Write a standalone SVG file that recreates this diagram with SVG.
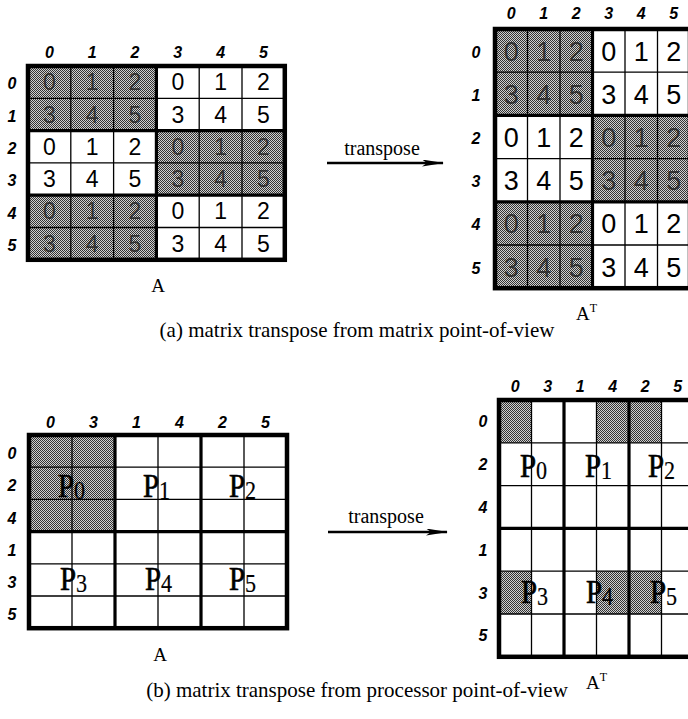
<svg xmlns="http://www.w3.org/2000/svg" width="688" height="719" viewBox="0 0 688 719">
<style>
.hd{font-family:"Liberation Sans",Arial,sans-serif;font-style:italic;font-weight:bold;font-size:16px;text-anchor:middle;fill:#000}
.d{font-family:"Liberation Sans",Arial,sans-serif;font-size:23px;text-anchor:middle;fill:#000}
.d2{font-size:27px}
.sd{fill:#1e1e1e;fill-opacity:0.8}
.cap{font-family:"Liberation Serif","Times New Roman",serif;font-size:21px;text-anchor:middle;fill:#000}
.lb{font-family:"Liberation Serif","Times New Roman",serif;font-size:19px;fill:#000}
.sup{font-size:12px}
.p{font-family:"Liberation Serif","Times New Roman",serif;font-size:34px;fill:#000;stroke:#000;stroke-width:0.7}
.sb{font-size:26px;stroke-width:0.2}
.thin{stroke:#000;stroke-width:1.3;fill:none}
.thick{stroke:#000;stroke-width:3.2;fill:none}
.outer{stroke:#000;stroke-width:4.5;fill:none}
.arr{stroke:#000;stroke-width:2.6;fill:none}
</style>
<defs>
<pattern id="ht" width="2" height="2" patternUnits="userSpaceOnUse">
<rect width="2" height="2" fill="#d0d0d0"/>
<rect width="1" height="1" fill="#333"/>
<rect x="1" y="1" width="1" height="1" fill="#333"/>
</pattern>
<marker id="ah" viewBox="0 0 22 7" refX="21" refY="3.5" markerWidth="22" markerHeight="7" markerUnits="userSpaceOnUse" orient="auto">
<path d="M0,0 L22,3.5 L0,7 L5,3.5 Z" fill="#000"/>
</marker>
</defs>

<!-- (a) A -->
<g id="matrixA1">
<rect x="28" y="66" width="128.4" height="64.6" fill="url(#ht)"/>
<rect x="156.4" y="130.6" width="128.4" height="64.6" fill="url(#ht)"/>
<rect x="28" y="195.2" width="128.4" height="64.6" fill="url(#ht)"/>
<path class="thin" d="M70.8,66V259.8M113.6,66V259.8M199.2,66V259.8M242,66V259.8M28,98.3H284.8M28,162.9H284.8M28,227.5H284.8"/>
<path class="thick" d="M156.4,66V259.8M28,130.6H284.8M28,195.2H284.8"/>
<rect class="outer" x="28" y="66" width="256.8" height="193.8"/>
<g class="hd">
<text x="49.4" y="58">0</text><text x="92.2" y="58">1</text><text x="135" y="58">2</text><text x="177.8" y="58">3</text><text x="220.6" y="58">4</text><text x="263.4" y="58">5</text>
<text x="12" y="89">0</text><text x="12" y="121.5">1</text><text x="12" y="154">2</text><text x="12" y="186">3</text><text x="12" y="218.5">4</text><text x="12" y="250.7">5</text>
</g>
<g class="d">
<g class="sd">
<text x="49.4" y="90.2">0</text><text x="92.2" y="90.2">1</text><text x="135" y="90.2">2</text>
<text x="49.4" y="122.5">3</text><text x="92.2" y="122.5">4</text><text x="135" y="122.5">5</text>
<text x="177.8" y="154.8">0</text><text x="220.6" y="154.8">1</text><text x="263.4" y="154.8">2</text>
<text x="177.8" y="187.1">3</text><text x="220.6" y="187.1">4</text><text x="263.4" y="187.1">5</text>
<text x="49.4" y="219.4">0</text><text x="92.2" y="219.4">1</text><text x="135" y="219.4">2</text>
<text x="49.4" y="251.7">3</text><text x="92.2" y="251.7">4</text><text x="135" y="251.7">5</text>
</g>
<text x="177.8" y="90.2">0</text><text x="220.6" y="90.2">1</text><text x="263.4" y="90.2">2</text>
<text x="177.8" y="122.5">3</text><text x="220.6" y="122.5">4</text><text x="263.4" y="122.5">5</text>
<text x="49.4" y="154.8">0</text><text x="92.2" y="154.8">1</text><text x="135" y="154.8">2</text>
<text x="49.4" y="187.1">3</text><text x="92.2" y="187.1">4</text><text x="135" y="187.1">5</text>
<text x="177.8" y="219.4">0</text><text x="220.6" y="219.4">1</text><text x="263.4" y="219.4">2</text>
<text x="177.8" y="251.7">3</text><text x="220.6" y="251.7">4</text><text x="263.4" y="251.7">5</text>
</g>
<text class="lb" x="158" y="292" text-anchor="middle">A</text>
</g>

<!-- (a) A^T -->
<g id="matrixAT1">
<rect x="495" y="29" width="97.5" height="86.4" fill="url(#ht)"/>
<rect x="592.5" y="115.4" width="97.5" height="86.4" fill="url(#ht)"/>
<rect x="495" y="201.8" width="97.5" height="86.4" fill="url(#ht)"/>
<path class="thin" d="M527.5,29V288.2M560,29V288.2M625,29V288.2M657.5,29V288.2M495,72.2H690M495,158.6H690M495,245H690"/>
<path class="thick" d="M592.5,29V288.2M495,115.4H690M495,201.8H690"/>
<rect class="outer" x="495" y="29" width="195" height="259.2"/>
<g class="hd">
<text x="511.3" y="19">0</text><text x="543.8" y="19">1</text><text x="576.3" y="19">2</text><text x="608.8" y="19">3</text><text x="641.3" y="19">4</text><text x="673.8" y="19">5</text>
<text x="476" y="57.6">0</text><text x="476" y="100.8">1</text><text x="476" y="144">2</text><text x="476" y="187.2">3</text><text x="476" y="230.4">4</text><text x="476" y="273.6">5</text>
</g>
<g class="d d2">
<g class="sd">
<text x="511.3" y="60.6">0</text><text x="543.8" y="60.6">1</text><text x="576.3" y="60.6">2</text>
<text x="511.3" y="103.8">3</text><text x="543.8" y="103.8">4</text><text x="576.3" y="103.8">5</text>
<text x="608.8" y="147">0</text><text x="641.3" y="147">1</text><text x="673.8" y="147">2</text>
<text x="608.8" y="190.2">3</text><text x="641.3" y="190.2">4</text><text x="673.8" y="190.2">5</text>
<text x="511.3" y="233.4">0</text><text x="543.8" y="233.4">1</text><text x="576.3" y="233.4">2</text>
<text x="511.3" y="276.6">3</text><text x="543.8" y="276.6">4</text><text x="576.3" y="276.6">5</text>
</g>
<text x="608.8" y="60.6">0</text><text x="641.3" y="60.6">1</text><text x="673.8" y="60.6">2</text>
<text x="608.8" y="103.8">3</text><text x="641.3" y="103.8">4</text><text x="673.8" y="103.8">5</text>
<text x="511.3" y="147">0</text><text x="543.8" y="147">1</text><text x="576.3" y="147">2</text>
<text x="511.3" y="190.2">3</text><text x="543.8" y="190.2">4</text><text x="576.3" y="190.2">5</text>
<text x="608.8" y="233.4">0</text><text x="641.3" y="233.4">1</text><text x="673.8" y="233.4">2</text>
<text x="608.8" y="276.6">3</text><text x="641.3" y="276.6">4</text><text x="673.8" y="276.6">5</text>
</g>
<text class="lb" x="576" y="320">A<tspan class="sup" dy="-8">T</tspan></text>
</g>

<text class="cap" x="357" y="337">(a) matrix transpose from matrix point-of-view</text>

<!-- (b) A -->
<g id="matrixA2">
<rect x="29" y="435" width="86" height="96.6" fill="url(#ht)"/>
<path class="thin" d="M72,435V628.2M158,435V628.2M244,435V628.2M29,467.2H287M29,499.4H287M29,563.8H287M29,596H287"/>
<path class="thick" d="M115,435V628.2M201,435V628.2M29,531.6H287"/>
<rect class="outer" x="29" y="435" width="258" height="193.2"/>
<g class="hd">
<text x="50.5" y="428">0</text><text x="93.5" y="428">3</text><text x="136.5" y="428">1</text><text x="179.5" y="428">4</text><text x="222.5" y="428">2</text><text x="265.5" y="428">5</text>
<text x="12" y="459">0</text><text x="12" y="491">2</text><text x="12" y="523.5">4</text><text x="12" y="555.7">1</text><text x="12" y="588">3</text><text x="12" y="620">5</text>
</g>
<text class="p" transform="translate(58,497) scale(0.85,1)">P<tspan class="sb" dy="2">0</tspan></text>
<text class="p" transform="translate(143,497) scale(0.85,1)">P<tspan class="sb" dy="2">1</tspan></text>
<text class="p" transform="translate(229,497) scale(0.85,1)">P<tspan class="sb" dy="2">2</tspan></text>
<text class="p" transform="translate(60,590) scale(0.85,1)">P<tspan class="sb" dy="2">3</tspan></text>
<text class="p" transform="translate(145,590) scale(0.85,1)">P<tspan class="sb" dy="2">4</tspan></text>
<text class="p" transform="translate(229,590) scale(0.85,1)">P<tspan class="sb" dy="2">5</tspan></text>
<text class="lb" x="160" y="661" text-anchor="middle">A</text>
</g>

<!-- (b) A^T -->
<g id="matrixAT2">
<rect x="499" y="400" width="32.5" height="42.8" fill="url(#ht)"/>
<rect x="596.5" y="400" width="32.5" height="42.8" fill="url(#ht)"/>
<rect x="629" y="400" width="32.5" height="42.8" fill="url(#ht)"/>
<rect x="499" y="571.2" width="32.5" height="42.8" fill="url(#ht)"/>
<rect x="596.5" y="571.2" width="32.5" height="42.8" fill="url(#ht)"/>
<rect x="629" y="571.2" width="32.5" height="42.8" fill="url(#ht)"/>
<path class="thin" d="M531.5,400V656.8M596.5,400V656.8M661.5,400V656.8M499,442.8H694M499,485.6H694M499,571.2H694M499,614H694"/>
<path class="thick" d="M564,400V656.8M629,400V656.8M499,528.4H694"/>
<rect class="outer" x="499" y="400" width="195" height="256.8"/>
<g class="hd">
<text x="515.3" y="392">0</text><text x="547.8" y="392">3</text><text x="580.3" y="392">1</text><text x="612.8" y="392">4</text><text x="645.3" y="392">2</text><text x="677.8" y="392">5</text>
<text x="483" y="427.4">0</text><text x="483" y="470.2">2</text><text x="483" y="513">4</text><text x="483" y="555.8">1</text><text x="483" y="598.6">3</text><text x="483" y="641.4">5</text>
</g>
<text class="p" transform="translate(520,477) scale(0.85,1)">P<tspan class="sb" dy="2">0</tspan></text>
<text class="p" transform="translate(585,477) scale(0.85,1)">P<tspan class="sb" dy="2">1</tspan></text>
<text class="p" transform="translate(648,477) scale(0.85,1)">P<tspan class="sb" dy="2">2</tspan></text>
<text class="p" transform="translate(521,603) scale(0.85,1)">P<tspan class="sb" dy="2">3</tspan></text>
<text class="p" transform="translate(586,603) scale(0.85,1)">P<tspan class="sb" dy="2">4</tspan></text>
<text class="p" transform="translate(650,603) scale(0.85,1)">P<tspan class="sb" dy="2">5</tspan></text>
<text class="lb" x="586" y="689">A<tspan class="sup" dy="-8">T</tspan></text>
</g>

<text class="cap" x="357" y="697">(b) matrix transpose from processor point-of-view</text>

<g id="connectors">
<line class="arr" x1="327" y1="163" x2="443" y2="163" marker-end="url(#ah)"/>
<text class="cap" x="382" y="155" style="font-size:20px">transpose</text>
<line class="arr" x1="328" y1="532" x2="447" y2="532" marker-end="url(#ah)"/>
<text class="cap" x="386" y="523" style="font-size:20px">transpose</text>
</g>
</svg>
